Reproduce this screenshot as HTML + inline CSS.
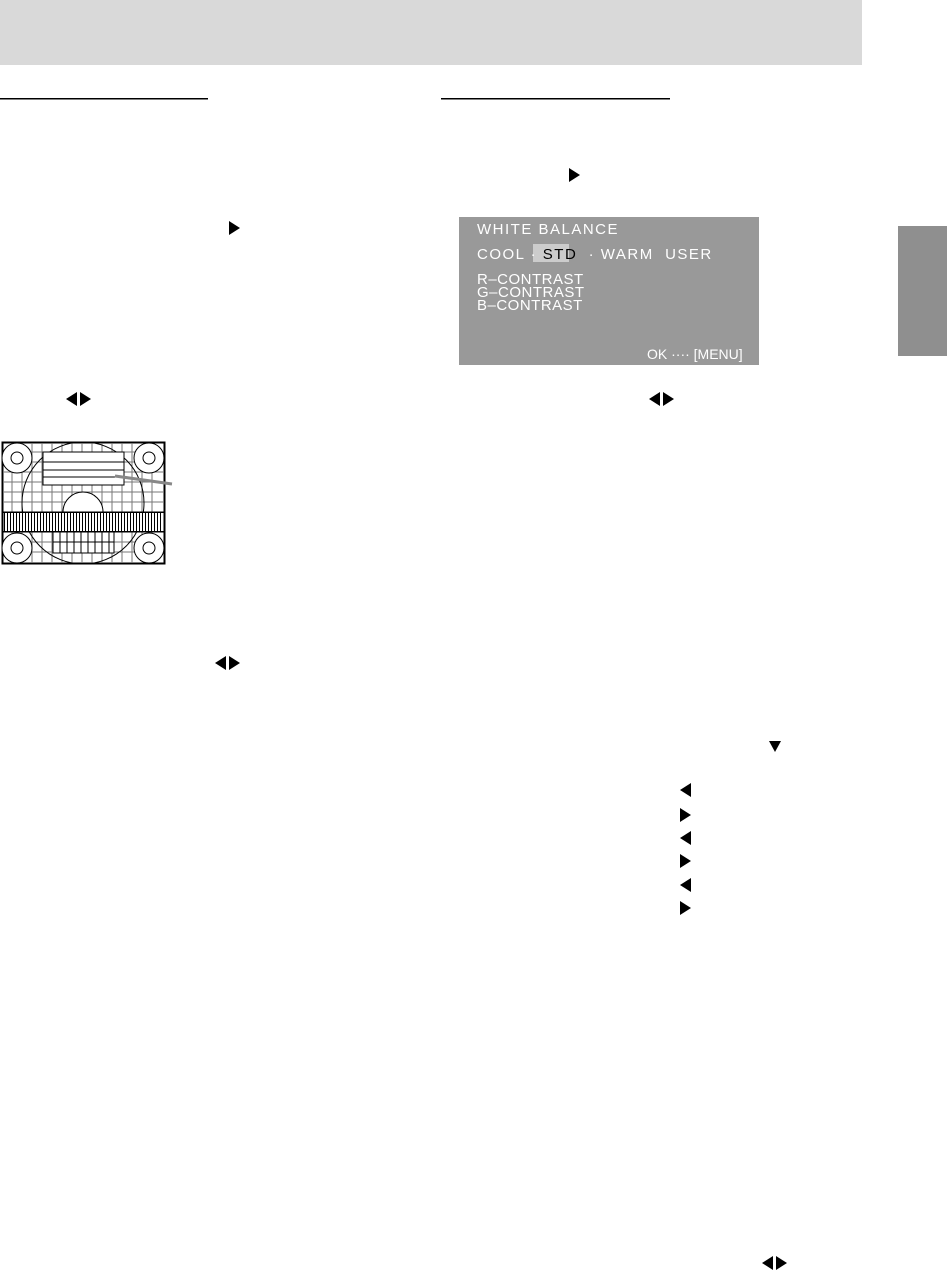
<!DOCTYPE html>
<html><head><style>
body{margin:0;background:#fff;width:947px;height:1275px;position:relative;overflow:hidden;font-family:"Liberation Sans",sans-serif}
</style></head><body>
<svg width="947" height="1275" style="position:absolute;left:0;top:0">
<rect x="0" y="0" width="862" height="65" fill="#d9d9d9"/>
<rect x="0" y="98" width="208" height="1.5" fill="#000"/>
<rect x="441" y="98" width="229" height="1.5" fill="#000"/>
<rect x="898" y="226" width="49" height="130" fill="#8f8f8f"/>
<rect x="459" y="217" width="300" height="148" fill="#999"/>
<rect x="533" y="244" width="36" height="18" fill="#ccc"/>
<g font-family="Liberation Sans" font-size="15" fill="#fff" letter-spacing="1.5">
<text x="477" y="234">WHITE  BALANCE</text>
<text x="477" y="259" xml:space="preserve">COOL · <tspan fill="#000">STD</tspan>  · WARM  USER</text>
<text x="477" y="284" letter-spacing="0.5">R–CONTRAST</text>
<text x="477" y="297" letter-spacing="0.5">G–CONTRAST</text>
<text x="477" y="310" letter-spacing="0.5">B–CONTRAST</text>
<text x="647" y="359" font-size="14" letter-spacing="0">OK ···· [MENU]</text>
</g>
<g fill="#000">
<polygon points="569,168 580,175 569,182"/>
<polygon points="229,221 240,228 229,235"/>
<polygon points="66,399 77,392 77,406"/><polygon points="80,392 91,399 80,406"/>
<polygon points="649,399 660,392 660,406"/><polygon points="663,392 674,399 663,406"/>
<polygon points="215,663 226,656 226,670"/><polygon points="229,656 240,663 229,670"/>
<polygon points="762,1263 773,1256 773,1270"/><polygon points="776,1256 787,1263 776,1270"/>
<polygon points="769,741 781,741 775,752"/>
<polygon points="680,790 691,783 691,797"/>
<polygon points="680,808 691,815 680,822"/>
<polygon points="680,838 691,831 691,845"/>
<polygon points="680,854 691,861 680,868"/>
<polygon points="680,885 691,878 691,892"/>
<polygon points="680,901 691,908 680,915"/>
</g>
<g stroke="#000" stroke-width="1" fill="none">
<rect x="2.5" y="442.5" width="162" height="121" stroke-width="2"/>
<g stroke="#777">
<path d="M3 452H164M3 462H164M3 472H164M3 482H164M3 492H164M3 502H164M3 512H164M3 542H164M3 552H164"/>
<path d="M12 443V563M22 443V563M32 443V563M42 443V563M52 443V563M62 443V563M72 443V563M82 443V563M92 443V563M102 443V563M112 443V563M122 443V563M132 443V563M142 443V563M152 443V563"/>
</g>
<circle cx="83" cy="503" r="61"/>
<rect x="43" y="452" width="81" height="33" fill="#fff"/>
<path d="M43 462H124M43 470H124M43 477H124"/>
<path d="M63 512A20 20 0 0 1 103 512" fill="#fff"/>
<rect x="3" y="512" width="161" height="20" fill="#fff"/>
<rect x="53" y="532" width="61" height="21" fill="#fff"/>
<path d="M53 542H114M60 532V553M67 532V553M74 532V553M81 532V553M88 532V553M95 532V553M102 532V553M109 532V553"/>
<g fill="#fff"><circle cx="17" cy="458" r="15"/><circle cx="149" cy="458" r="15"/><circle cx="17" cy="548" r="15"/><circle cx="149" cy="548" r="15"/></g>
<circle cx="17" cy="458" r="6"/><circle cx="149" cy="458" r="6"/><circle cx="17" cy="548" r="6"/><circle cx="149" cy="548" r="6"/>
</g>
<g fill="#000" shape-rendering="crispEdges">
<rect x="4" y="512" width="1" height="20"/><rect x="7" y="512" width="1" height="20"/><rect x="10" y="512" width="1" height="20"/><rect x="13" y="512" width="1" height="20"/><rect x="16" y="512" width="1" height="20"/><rect x="19" y="512" width="1" height="20"/><rect x="22" y="512" width="1" height="20"/><rect x="25" y="512" width="1" height="20"/><rect x="28" y="512" width="1" height="20"/><rect x="31" y="512" width="1" height="20"/><rect x="34" y="512" width="1" height="20"/><rect x="37" y="512" width="1" height="20"/><rect x="40" y="512" width="1" height="20"/><rect x="43" y="512" width="1" height="20"/><rect x="46" y="512" width="1" height="20"/><rect x="49" y="512" width="1" height="20"/><rect x="52" y="512" width="1" height="20"/><rect x="55" y="512" width="1" height="20"/><rect x="58" y="512" width="1" height="20"/><rect x="61" y="512" width="1" height="20"/><rect x="64" y="512" width="1" height="20"/><rect x="67" y="512" width="1" height="20"/><rect x="70" y="512" width="1" height="20"/><rect x="73" y="512" width="1" height="20"/><rect x="76" y="512" width="1" height="20"/><rect x="79" y="512" width="1" height="20"/><rect x="82" y="512" width="1" height="20"/><rect x="85" y="512" width="1" height="20"/><rect x="88" y="512" width="1" height="20"/><rect x="91" y="512" width="1" height="20"/><rect x="94" y="512" width="1" height="20"/><rect x="97" y="512" width="1" height="20"/><rect x="100" y="512" width="1" height="20"/><rect x="103" y="512" width="1" height="20"/><rect x="106" y="512" width="1" height="20"/><rect x="109" y="512" width="1" height="20"/><rect x="112" y="512" width="1" height="20"/><rect x="115" y="512" width="1" height="20"/><rect x="118" y="512" width="1" height="20"/><rect x="121" y="512" width="1" height="20"/><rect x="124" y="512" width="1" height="20"/><rect x="127" y="512" width="1" height="20"/><rect x="130" y="512" width="1" height="20"/><rect x="133" y="512" width="1" height="20"/><rect x="136" y="512" width="1" height="20"/><rect x="139" y="512" width="1" height="20"/><rect x="142" y="512" width="1" height="20"/><rect x="145" y="512" width="1" height="20"/><rect x="148" y="512" width="1" height="20"/><rect x="151" y="512" width="1" height="20"/><rect x="154" y="512" width="1" height="20"/><rect x="157" y="512" width="1" height="20"/><rect x="160" y="512" width="1" height="20"/>
<rect x="3" y="512" width="161" height="1"/><rect x="3" y="531" width="161" height="1"/>
</g>
<line x1="115" y1="476" x2="172" y2="484" stroke="#888" stroke-width="3"/>
</svg>
</body></html>
